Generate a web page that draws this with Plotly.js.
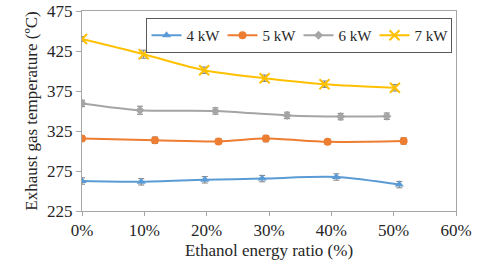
<!DOCTYPE html>
<html><head><meta charset="utf-8">
<script src="https://cdn.plot.ly/plotly-3.0.1.min.js"></script>
<style>html,body{margin:0;padding:0;background:#fff}#c{width:480px;height:272px}</style>
</head><body><div id="c"></div>
<script>
const seriesNames = ["4 kW", "5 kW", "6 kW", "7 kW"];
const x4 = [0, 9.5, 19.7, 28.9, 40.8, 50.9];
const y4 = [262.5, 261.5, 264, 265.5, 267.5, 258];
const e4 = [4, 4, 4, 4, 4, 4];
const x5 = [0, 11.7, 21.9, 29.5, 39.4, 51.6];
const y5 = [315.5, 313.5, 312, 315.5, 311.5, 312.5];
const e5 = [3, 4, 3, 4, 3, 4];
const x6 = [0, 9.3, 21.4, 32.9, 41.5, 48.9];
const y6 = [359.5, 351, 350, 344.5, 343, 343.5];
const e6 = [4, 5, 4, 4, 4, 4];
const x7 = [0, 9.9, 19.6, 29.3, 38.9, 50.2];
const y7 = [440, 421, 401, 391, 383.5, 379];
const e7 = [3, 5, 4, 4, 4, 4];
const xTicks = [0, 10, 20, 30, 40, 50, 60];
const yTicks = [225, 275, 325, 375, 425, 475];

const colors = ["#5B9BD5", "#ED7D31", "#A5A5A5", "#FFC000"];
const symbols = ["triangle-up", "circle", "diamond", "x-thin-open"];
const sizes = [8, 8, 7, 10];
const xs = [x4, x5, x6, x7], ys = [y4, y5, y6, y7], es = [e4, e5, e6, e7];

const traces = seriesNames.map((n, i) => ({
  type: "scatter", mode: "lines+markers", name: n,
  x: xs[i], y: ys[i],
  line: {color: colors[i], width: 2, shape: "spline", smoothing: 0.8},
  marker: {color: colors[i], symbol: symbols[i], size: sizes[i],
           line: {color: colors[i], width: i === 3 ? 2 : 0}},
  error_y: {type: "data", array: es[i], visible: true, color: "#7f7f7f", thickness: 1, width: 3}
}));

const font = {family: "'Liberation Serif', 'Times New Roman', serif", size: 17, color: "#262626"};
const legendFont = {family: "'Liberation Serif', 'Times New Roman', serif", size: 15, color: "#262626"};
const layout = {
  width: 480, height: 272,
  margin: {l: 82, r: 24, t: 11, b: 61},
  paper_bgcolor: "#fff", plot_bgcolor: "#fff",
  font: font,
  showlegend: true,
  legend: {orientation: "h", x: 0.988, y: 0.965, xanchor: "right", yanchor: "top",
           bordercolor: "#595959", borderwidth: 1, bgcolor: "#fff",
           font: legendFont, itemwidth: 30, entrywidth: 31, entrywidthmode: "pixels", tracegroupgap: 0},
  xaxis: {range: [0, 60], tickvals: xTicks, ticktext: xTicks.map(v => v + "%"),
          showgrid: false, zeroline: false, showline: true, linecolor: "#a6a6a6", linewidth: 1,
          mirror: true, ticks: "outside", ticklen: 4, tickcolor: "#a6a6a6",
          title: {text: "Ethanol energy ratio (%)", font: font, standoff: 4}},
  yaxis: {range: [225, 475], tickvals: yTicks,
          showgrid: false, zeroline: false, showline: true, linecolor: "#a6a6a6", linewidth: 1,
          mirror: true, ticks: "outside", ticklen: 5, tickcolor: "#a6a6a6",
          title: {text: "Exhaust gas temperature (ºC)", font: font, standoff: 5}}
};
Plotly.newPlot("c", traces, layout, {displayModeBar: false, staticPlot: true});
</script></body></html>
